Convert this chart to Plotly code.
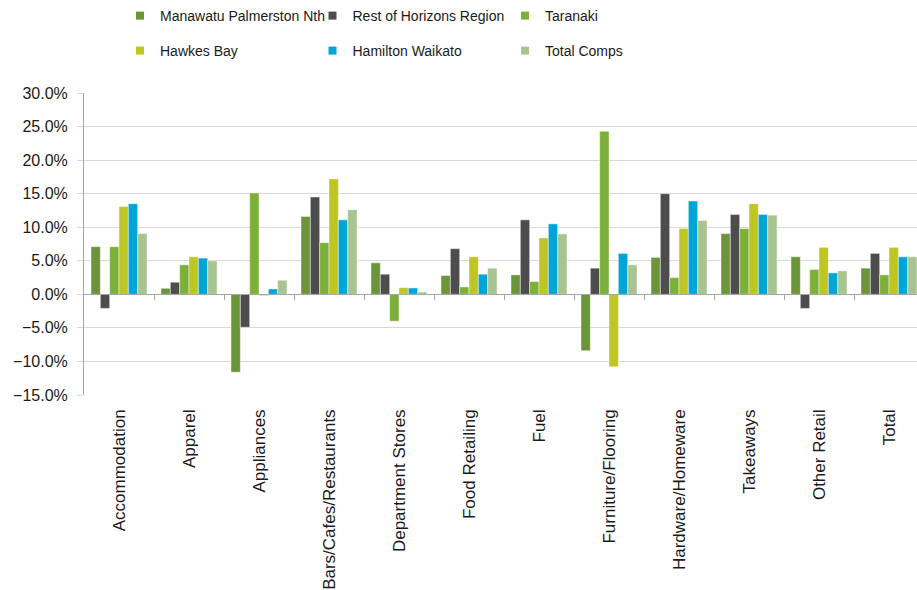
import plotly.graph_objects as go

categories = ["Accommodation", "Apparel", "Appliances", "Bars/Cafes/Restaurants",
              "Department Stores", "Food Retailing", "Fuel", "Furniture/Flooring",
              "Hardware/Homeware", "Takeaways", "Other Retail", "Total"]

manawatu = [7.1, 0.9, -11.6, 11.6, 4.7, 2.8, 2.9, -8.4, 5.5, 9.05, 5.6, 3.9]
rest_horizons = [-2.1, 1.8, -4.9, 14.5, 3.0, 6.8, 11.1, 3.9, 15.0, 11.9, -2.1, 6.1]
taranaki = [7.1, 4.4, 15.1, 7.7, -4.0, 1.1, 1.9, 24.3, 2.5, 9.8, 3.7, 2.9]
hawkes_bay = [13.1, 5.6, -0.2, 17.2, 1.0, 5.6, 8.4, -10.8, 9.8, 13.5, 7.0, 7.0]
hamilton = [13.5, 5.4, 0.8, 11.1, 0.95, 3.0, 10.5, 6.1, 13.9, 11.9, 3.2, 5.6]
total_comps = [9.05, 5.0, 2.1, 12.6, 0.35, 3.9, 9.0, 4.4, 11.0, 11.8, 3.5, 5.6]

series = [
    ("Manawatu Palmerston Nth", manawatu, "#6b9538", "legend"),
    ("Rest of Horizons Region", rest_horizons, "#4d4d4f", "legend"),
    ("Taranaki", taranaki, "#7db03a", "legend"),
    ("Hawkes Bay", hawkes_bay, "#bfc522", "legend2"),
    ("Hamilton Waikato", hamilton, "#00a4d6", "legend2"),
    ("Total Comps", total_comps, "#a8c490", "legend2"),
]

FONT = "Liberation Sans, Arial, Helvetica, sans-serif"
W, H = 917, 590
L, T, B = 84, 93, 195
x_end = 11.5 - (L + 12 * 70 - W) / 70.0

fig = go.Figure()
for name, vals, color, lg in series:
    fig.add_trace(go.Bar(
        name=name, x=categories, y=[v / 100 for v in vals],
        marker=dict(color=color, line=dict(color="rgba(255,255,255,0.55)", width=0.8)),
        showlegend=False, legendgroup=name,
    ))

# legend entries with small square swatches
for name, vals, color, lg in series:
    fig.add_trace(go.Scatter(
        name=name, x=[None], y=[None], mode="markers",
        marker=dict(symbol="square", size=8, color=color),
        legend=lg, legendgroup=name, hoverinfo="skip",
    ))

# invisible helper trace for the zero-line axis with ticks
fig.add_trace(go.Scatter(x=[0], y=[0], xaxis="x2", yaxis="y", mode="markers",
                         marker=dict(opacity=0), showlegend=False, hoverinfo="skip"))

legend_common = dict(
    orientation="h", xref="container", yref="container",
    xanchor="left", yanchor="top", font=dict(size=14),
    entrywidth=147.5, entrywidthmode="pixels", bgcolor="rgba(0,0,0,0)",
)

fig.update_layout(
    width=W, height=H,
    margin=dict(l=L, r=0, t=T, b=B),
    paper_bgcolor="white", plot_bgcolor="white",
    font=dict(family=FONT, color="#1a1a1a"),
    barmode="group", bargap=0.2, bargroupgap=0.0,
    xaxis=dict(
        type="category", range=[-0.5, x_end],
        tickangle=-90, tickfont=dict(size=17),
        showline=False, ticks="", showgrid=False, ticklabelstandoff=10,
    ),
    xaxis2=dict(
        overlaying="x", anchor="free", position=1/3, type="linear",
        range=[-0.5, x_end], showline=True, linecolor="#a6a6a6", linewidth=1.3,
        ticks="outside", ticklen=5, tickcolor="#a6a6a6",
        tickvals=[i + 0.5 for i in range(11)], showticklabels=False,
        showgrid=False, zeroline=False,
    ),
    yaxis=dict(
        range=[-0.15, 0.30], dtick=0.05, tickformat=".1%",
        tickfont=dict(size=16), showgrid=True, gridcolor="#d9d9d9", gridwidth=1,
        showline=True, linecolor="#a6a6a6", linewidth=1,
        ticks="outside", ticklen=6, tickcolor="#d9d9d9",
        zeroline=False, ticklabelstandoff=6,
    ),
    legend=dict(x=120 / W, y=1.0, **legend_common),
    legend2=dict(x=120 / W, y=1 - 35 / H, **legend_common),
)

fig.write_html("out.html")
